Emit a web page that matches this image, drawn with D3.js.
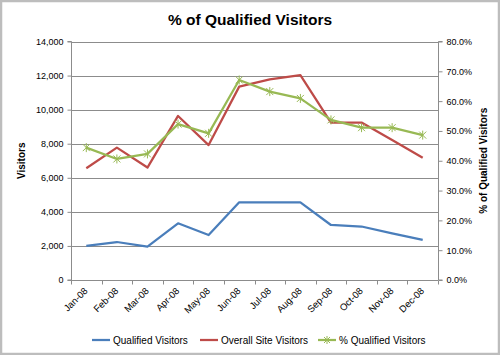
<!DOCTYPE html>
<html><head><meta charset="utf-8">
<script src="https://cdn.jsdelivr.net/npm/d3@7"></script>
<style>body{margin:0;background:#fff}svg{display:block}</style>
</head><body><svg id="c" width="500" height="355"></svg>
<script>
const months = ["Jan-08","Feb-08","Mar-08","Apr-08","May-08","Jun-08","Jul-08","Aug-08","Sep-08","Oct-08","Nov-08","Dec-08"];
const qualified = [2000,2230,1960,3330,2640,4560,4560,4560,3230,3140,2740,2350];
const overall = [6560,7770,6600,9630,7920,11350,11780,12030,9240,9240,8220,7180];
const pctQualified = [0.444,0.406,0.423,0.523,0.492,0.671,0.632,0.609,0.537,0.511,0.511,0.486];
const leftTicks = [0,2000,4000,6000,8000,10000,12000,14000];
const rightTicks = [0,0.1,0.2,0.3,0.4,0.5,0.6,0.7,0.8];
const seriesNames = ["Qualified Visitors","Overall Site Visitors","% Qualified Visitors"];
const colors = ["#4a7ebb","#be4b48","#98b954"];

const svg = d3.select("#c");
const font = "'Liberation Sans', Arial, sans-serif";
svg.append("rect").attr("x",1).attr("y",1).attr("width",498).attr("height",353)
  .attr("fill","#fff").attr("stroke","#bdbdbd").attr("stroke-width",2.5);

const L=71, R=438, T=41.5, B=280;
const x = d3.scaleBand().domain(months).range([L,R]);
const yL = d3.scaleLinear().domain([0,14000]).range([B,T]);
const yR = d3.scaleLinear().domain([0,0.8]).range([B,T]);
const grid="#8c8c8c";

svg.append("g").selectAll("line").data(leftTicks.slice(1)).join("line")
  .attr("x1",L).attr("x2",R).attr("y1",d=>Math.round(yL(d))+0.5).attr("y2",d=>Math.round(yL(d))+0.5)
  .attr("stroke",grid).attr("stroke-width",1);

const gl = svg.append("g").attr("transform",`translate(${L+0.5},0)`)
  .call(d3.axisLeft(yL).tickValues(leftTicks).tickFormat(d3.format(",")).tickSize(4).tickPadding(4));
gl.select(".domain").attr("stroke",grid).attr("d",`M-4,${B}H0V${T}H-4`);
gl.selectAll(".tick line").attr("stroke",grid);
gl.selectAll("text").attr("font-family",font).attr("font-size",9).attr("fill","#000");

const gr = svg.append("g").attr("transform",`translate(${R+0.5},0)`)
  .call(d3.axisRight(yR).tickValues(rightTicks).tickFormat(d3.format(".1%")).tickSize(4).tickPadding(4));
gr.select(".domain").attr("stroke",grid).attr("d",`M4,${B}H0V${T}H4`);
gr.selectAll(".tick line").attr("stroke",grid);
gr.selectAll("text").attr("font-family",font).attr("font-size",9).attr("fill","#000");

const gb = svg.append("g").attr("transform",`translate(0,${B+0.5})`);
gb.append("line").attr("x1",L).attr("x2",R).attr("stroke",grid);
const bounds = months.map(m=>x(m)).concat([R]);
gb.selectAll("line.t").data(bounds).join("line").attr("class","t")
  .attr("x1",d=>Math.round(d)+0.5).attr("x2",d=>Math.round(d)+0.5).attr("y1",0).attr("y2",4).attr("stroke",grid);
gb.selectAll("text").data(months).join("text")
  .attr("transform",d=>`translate(${x(d)+x.bandwidth()/2+2},11) rotate(-45)`)
  .attr("text-anchor","end").attr("font-family",font).attr("font-size",9.5).text(d=>d);

const cx = d=>x(d)+x.bandwidth()/2;
const lineL = d3.line().x((d,i)=>cx(months[i])).y(d=>yL(d));
const lineR = d3.line().x((d,i)=>cx(months[i])).y(d=>yR(d));
svg.append("path").attr("d",lineL(qualified)).attr("fill","none").attr("stroke",colors[0]).attr("stroke-width",2.25).attr("stroke-linejoin","round");
svg.append("path").attr("d",lineL(overall)).attr("fill","none").attr("stroke",colors[1]).attr("stroke-width",2.25).attr("stroke-linejoin","round");
svg.append("path").attr("d",lineR(pctQualified)).attr("fill","none").attr("stroke",colors[2]).attr("stroke-width",2.25).attr("stroke-linejoin","round");
function star(g,px,py,s){
  g.append("path").attr("d",`M${px-s},${py-s}L${px+s},${py+s}M${px-s},${py+s}L${px+s},${py-s}M${px},${py-s-1}V${py+s+1}`)
   .attr("stroke",colors[2]).attr("stroke-width",1).attr("fill","none");
}
const mg = svg.append("g");
pctQualified.forEach((v,i)=>star(mg,cx(months[i]),yR(v),3.5));

svg.append("text").attr("x",250).attr("y",25).attr("text-anchor","middle")
  .attr("font-family",font).attr("font-weight","bold").attr("font-size",15.5).text("% of Qualified Visitors");
svg.append("text").attr("transform",`translate(25,${(T+B)/2}) rotate(-90)`).attr("text-anchor","middle")
  .attr("font-family",font).attr("font-weight","bold").attr("font-size",10).text("Visitors");
svg.append("text").attr("transform",`translate(487,${(T+B)/2}) rotate(-90)`).attr("text-anchor","middle")
  .attr("font-family",font).attr("font-weight","bold").attr("font-size",10).text("% of Qualified Visitors");

const legX=[92,200,318];
const lg = svg.append("g");
seriesNames.forEach((n,i)=>{
  lg.append("line").attr("x1",legX[i]).attr("x2",legX[i]+18).attr("y1",340).attr("y2",340)
    .attr("stroke",colors[i]).attr("stroke-width",2.25);
  if(i===2) star(lg,legX[i]+9,340,3);
  lg.append("text").attr("x",legX[i]+21).attr("y",343.5).attr("font-family",font).attr("font-size",10).text(n);
});
</script></body></html>
